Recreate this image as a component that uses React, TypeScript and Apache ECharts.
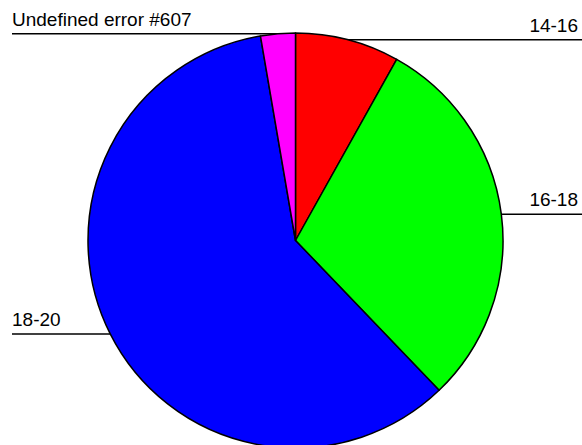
import React, { useEffect, useRef } from "react";
import * as echarts from "echarts";

// Slice categories and their counts, clockwise from 12 o'clock
const categories = ["14-16", "16-18", "18-20", "Undefined error #607"];
const counts = [3, 11, 22, 1];
const sliceColors = ["#ff0000", "#00ff00", "#0000ff", "#ff00ff"];

const WIDTH = 582;
const HEIGHT = 445;
const CX = 295.5;
const CY = 240.5;
const R = 207.5;

export default function App() {
  const ref = useRef<HTMLDivElement>(null);

  useEffect(() => {
    if (!ref.current) return;
    const chart = echarts.init(ref.current, null, { renderer: "svg" });

    const data = categories.map((name, i) => ({
      name,
      value: counts[i],
      itemStyle: { color: sliceColors[i] },
    }));

    chart.setOption({
      animation: false,
      backgroundColor: "#ffffff",
      series: [
        {
          type: "pie",
          center: [CX, CY],
          radius: [0, R],
          startAngle: 90,
          clockwise: true,
          avoidLabelOverlap: false,
          silent: true,
          data,
          itemStyle: { borderColor: "#000000", borderWidth: 1.5 },
          label: {
            show: true,
            position: "outside",
            formatter: "{b}",
            color: "#000000",
            fontFamily: "Liberation Sans, Arial, sans-serif",
            fontSize: 19,
          },
          labelLine: {
            show: true,
            length: 0,
            length2: 0,
            smooth: false,
            lineStyle: { color: "#000000", width: 1.5 },
          },
          // Horizontal leader from the slice edge out to the chart side, text sitting on it
          labelLayout: (params: any) => {
            const pts = params.labelLinePoints;
            if (!pts || !pts.length) return {};
            const x0 = pts[0][0];
            const y0 = pts[0][1];
            const isLeft = x0 < CX;
            const endX = isLeft ? 12 : WIDTH;
            const textX = isLeft ? 12 : 578;
            return {
              x: textX,
              y: y0 - 5,
              align: isLeft ? "left" : "right",
              verticalAlign: "bottom",
              labelLinePoints: [
                [x0, y0],
                [x0, y0],
                [endX, y0],
              ],
            };
          },
          emphasis: { disabled: true },
        },
      ],
    });

    return () => chart.dispose();
  }, []);

  return (
    <div
      ref={ref}
      style={{ position: "fixed", left: 0, top: 0, width: WIDTH, height: HEIGHT }}
    />
  );
}
